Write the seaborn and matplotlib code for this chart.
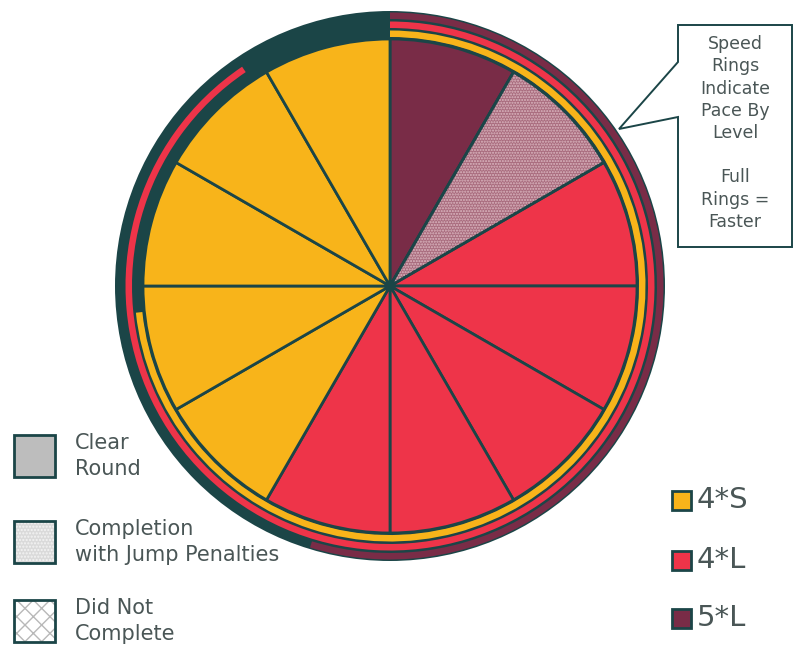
import matplotlib.pyplot as plt
import matplotlib.patches as mpatches
import seaborn as sns

# dados
slice_levels = ["5*L", "5*L", "4*L", "4*L", "4*L", "4*L", "4*L",
                "4*S", "4*S", "4*S", "4*S", "4*S"]
slice_results = ["Clear Round", "Completion with Jump Penalties"] + ["Clear Round"] * 10
slice_values = [1] * 12

ring_levels = ["5*L", "4*L", "4*S"]
ring_degrees = [197, 326, 264]

level_labels = ["4*S", "4*L", "5*L"]
result_labels = ["Clear\nRound", "Completion\nwith Jump Penalties", "Did Not\nComplete"]
callout_text = "Speed\nRings\nIndicate\nPace By\nLevel\n\nFull\nRings =\nFaster"

sns.set_style("white")
plt.rcParams['font.family'] = ['DejaVu Sans']

teal = "#1b4547"
txt = "#4a5656"
palette = dict(zip(["4*S", "4*L", "5*L"], sns.color_palette(["#f8b41a", "#ee3449", "#792c47"])))
result_style = {
    "Clear Round": ("#bdbdbd", None, None),
    "Completion with Jump Penalties": ("#dadada", ".....", "#f4f4f4"),
    "Did Not Complete": ("#ffffff", "xx", "#b8b8b8"),
}

H = 649
def Y(py):
    return H - py

fig = plt.figure(figsize=(7.95, 6.49), dpi=100)
ax = fig.add_axes([0, 0, 1, 1])
cx, cy = 390, Y(286)

# fundo escuro dos aneis
ax.add_patch(mpatches.Circle((cx, cy), 275, color=teal, lw=0))

# aneis de velocidade
ring_outer = {"5*L": 273.5, "4*L": 264.5, "4*S": 255.5}
for lvl, deg in zip(ring_levels, ring_degrees):
    ax.add_patch(mpatches.Wedge((cx, cy), ring_outer[lvl], 90 - deg, 90, width=6.5,
                                facecolor=palette[lvl], lw=0))

# pizza principal
colors = []
for lvl, res in zip(slice_levels, slice_results):
    colors.append("#a96c7e" if res != "Clear Round" else palette[lvl])
wedges, _ = ax.pie(slice_values, colors=colors, startangle=90, counterclock=False,
                   radius=247, center=(cx, cy),
                   wedgeprops=dict(edgecolor=teal, linewidth=2))
for w, res in zip(wedges, slice_results):
    if res != "Clear Round":
        ax.add_patch(mpatches.Wedge(w.center, w.r, w.theta1, w.theta2, facecolor="none",
                                    edgecolor="#dcb8c1", hatch="......", lw=0))
        ax.add_patch(mpatches.Wedge(w.center, w.r, w.theta1, w.theta2, facecolor="none",
                                    edgecolor=teal, lw=2))
ax.add_patch(mpatches.Circle((cx, cy), 4.5, color=teal, zorder=5))

# caixa de anotacao
box = [(678, 25), (792, 25), (792, 247), (678, 247), (678, 117), (619, 129), (678, 62)]
ax.add_patch(mpatches.Polygon([(x, Y(y)) for x, y in box], closed=True,
                              facecolor="white", edgecolor=teal, lw=1.4))
ax.text(735, Y(133), callout_text, ha="center", va="center", fontsize=12.5,
        color=txt, linespacing=1.3)

# legenda de resultados
for lab, yc in zip(result_labels, [456, 542, 621]):
    key = lab.replace("\n", " ")
    fc, hatch, hc = result_style[key]
    ax.add_patch(mpatches.Rectangle((14, Y(yc + 21)), 41, 42, facecolor=fc, lw=0))
    if hatch:
        ax.add_patch(mpatches.Rectangle((14, Y(yc + 21)), 41, 42, facecolor="none",
                                        edgecolor=hc, hatch=hatch, lw=0))
    ax.add_patch(mpatches.Rectangle((14, Y(yc + 21)), 41, 42, facecolor="none",
                                    edgecolor=teal, lw=2))
    ax.text(75, Y(yc), lab, ha="left", va="center", fontsize=15, color=txt,
            linespacing=1.35)

# legenda de niveis
for lab, yc in zip(level_labels, [500, 560, 618]):
    ax.add_patch(mpatches.Rectangle((672, Y(yc + 9.5)), 19, 19, facecolor=palette[lab],
                                    edgecolor=teal, lw=2))
    ax.text(697, Y(yc), lab, ha="left", va="center", fontsize=21, color=txt)

ax.set_xlim(0, 795)
ax.set_ylim(0, H)
ax.set_aspect("equal")
ax.axis("off")

plt.savefig("out.png", dpi=100)
plt.close()
